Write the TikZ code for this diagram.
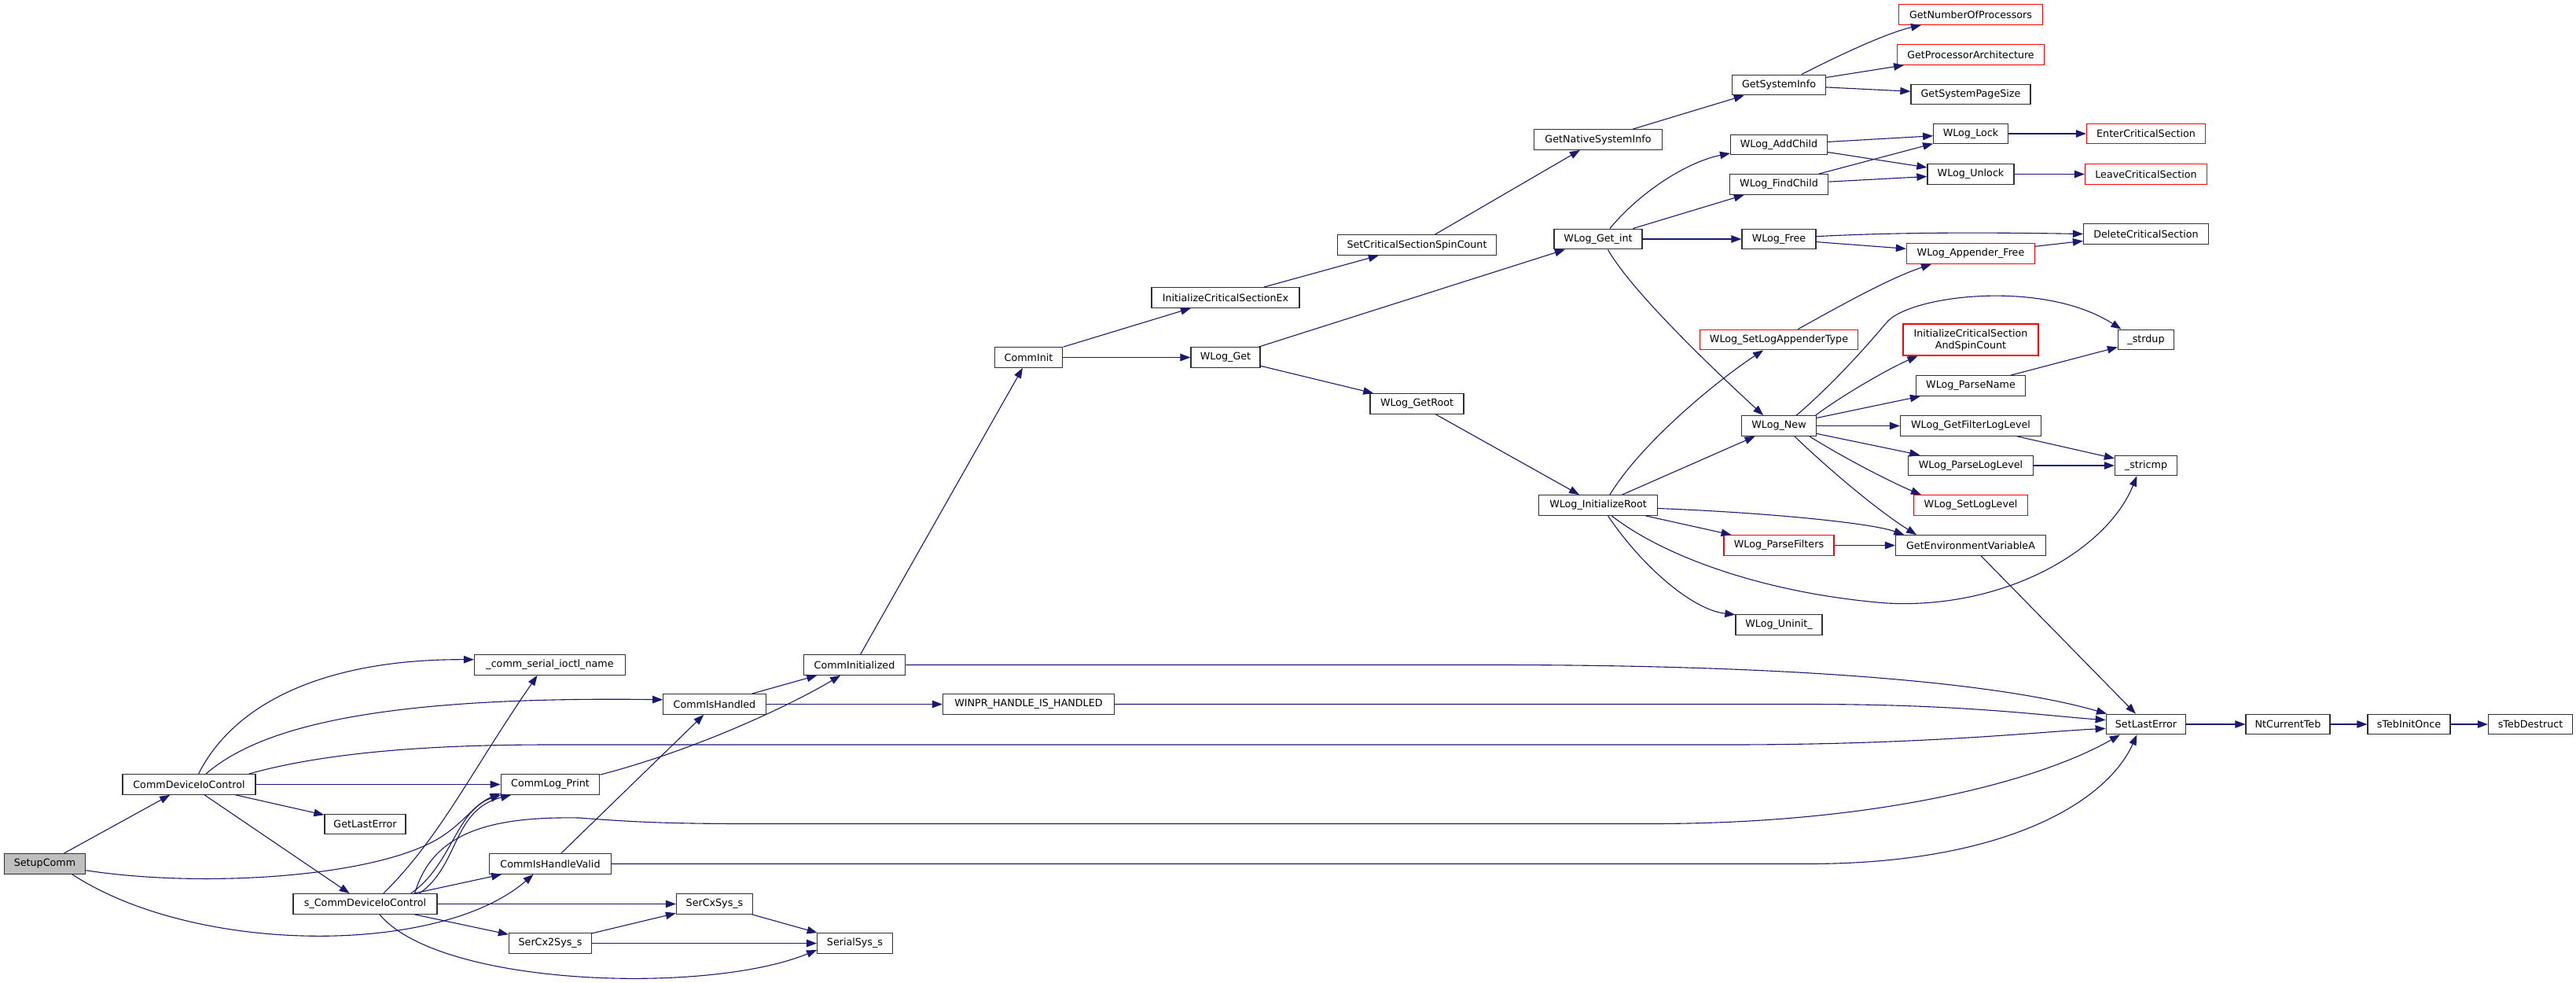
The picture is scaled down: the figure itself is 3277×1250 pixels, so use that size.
\documentclass[tikz,border=0pt]{standalone}
\usepackage{fontspec}
\setmainfont{DejaVu Sans}
\usetikzlibrary{arrows.meta}
\definecolor{edgeblue}{HTML}{191970}
\definecolor{boxline}{HTML}{303030}
\definecolor{rootgrey}{HTML}{BFBFBF}
\tikzset{
  fn/.style={draw=boxline, line width=1.3pt, fill=white, inner sep=0pt,
    minimum height=25.5pt, font=\fontsize{12.7}{15}\selectfont},
  rootfn/.style={fn, fill=rootgrey},
  redfn/.style={fn, draw=red},
  call/.style={edgeblue, line width=1.1pt, -{Triangle[length=13pt,width=9.5pt]}}
}

\begin{document}
\begin{tikzpicture}[x=1pt,y=1pt]
  \path[fill=white, use as bounding box] (0,0) rectangle (3277,-1250);

  \node[rootfn, minimum width=103] (setupcomm) at (57,-1098.5) {SetupComm};
  \node[fn, minimum width=169] (devctl) at (240.5,-997.5) {CommDeviceIoControl};
  \node[fn, minimum width=103] (getlasterror) at (464.5,-1048) {GetLastError};
  \node[fn, minimum width=183] (sdevctl) at (464.5,-1149.5) {s\_CommDeviceIoControl};
  \node[fn, minimum width=192] (ioctlname) at (699.5,-845.5) {\_comm\_serial\_ioctl\_name};
  \node[fn, minimum width=125.5] (logprint) at (700,-997.5) {CommLog\_Print};
  \node[fn, minimum width=155] (handlevalid) at (700,-1098.5) {CommIsHandleValid};
  \node[fn, minimum width=105] (sercxtwo) at (700,-1199.5) {SerCx2Sys\_s};
  \node[fn, minimum width=130.5] (ishandled) at (909,-895.5) {CommIsHandled};
  \node[fn, minimum width=97] (sercx) at (909,-1149.5) {SerCxSys\_s};
  \node[fn, minimum width=129.5] (initialized) at (1087,-845.5) {CommInitialized};
  \node[fn, minimum width=95.5] (serialsys) at (1087.5,-1199.5) {SerialSys\_s};
  \node[fn, minimum width=218] (winpr) at (1308.5,-895.5) {WINPR\_HANDLE\_IS\_HANDLED};
  \node[fn, minimum width=86.5] (comminit) at (1308.5,-454.5) {CommInit};
  \node[fn, minimum width=188] (icsex) at (1559,-378.5) {InitializeCriticalSectionEx};
  \node[fn, minimum width=88] (wlogget) at (1559,-454.5) {WLog\_Get};
  \node[fn, minimum width=202] (spincount) at (1802.5,-311.5) {SetCriticalSectionSpinCount};
  \node[fn, minimum width=119] (getroot) at (1802.5,-513.5) {WLog\_GetRoot};
  \node[fn, minimum width=162.5] (nativeinfo) at (2033,-177.5) {GetNativeSystemInfo};
  \node[fn, minimum width=112] (getint) at (2033,-304) {WLog\_Get\_int};
  \node[fn, minimum width=150.5] (initroot) at (2033,-642.5) {WLog\_InitializeRoot};
  \node[fn, minimum width=118.7] (sysinfo) at (2263,-108) {GetSystemInfo};
  \node[fn, minimum width=122.7] (addchild) at (2263,-184) {WLog\_AddChild};
  \node[fn, minimum width=125.5] (findchild) at (2263,-234.5) {WLog\_FindChild};
  \node[fn, minimum width=94] (wlogfree) at (2263,-304) {WLog\_Free};
  \node[redfn, minimum width=201.5] (setappender) at (2263,-432) {WLog\_SetLogAppenderType};
  \node[fn, minimum width=94.6] (wlognew) at (2263,-541.5) {WLog\_New};
  \node[redfn, minimum width=140] (parsefilters) at (2263,-693.5) {WLog\_ParseFilters};
  \node[fn, minimum width=110] (uninit) at (2263,-794.5) {WLog\_Uninit\_};
  \node[redfn, minimum width=182.5] (numproc) at (2507,-18.5) {GetNumberOfProcessors};
  \node[redfn, minimum width=187] (procarch) at (2507,-69.5) {GetProcessorArchitecture};
  \node[fn, minimum width=152] (pagesize) at (2507,-120) {GetSystemPageSize};
  \node[fn, minimum width=94.5] (wloglock) at (2507,-170) {WLog\_Lock};
  \node[fn, minimum width=110] (wlogunlock) at (2507,-221.5) {WLog\_Unlock};
  \node[redfn, minimum width=163] (appfree) at (2507,-322.5) {WLog\_Appender\_Free};
  \node[redfn, minimum width=172, minimum height=40, align=center] (icsspin) at (2507,-432) {InitializeCriticalSection\\AndSpinCount};
  \node[fn, minimum width=139] (parsename) at (2507,-490.5) {WLog\_ParseName};
  \node[fn, minimum width=179] (filterlevel) at (2507,-541.5) {WLog\_GetFilterLogLevel};
  \node[fn, minimum width=159] (parselevel) at (2507,-592) {WLog\_ParseLogLevel};
  \node[redfn, minimum width=144.4] (setlevel) at (2507,-642.5) {WLog\_SetLogLevel};
  \node[fn, minimum width=191] (getenv) at (2507,-693.5) {GetEnvironmentVariableA};
  \node[redfn, minimum width=151] (entercs) at (2730,-170) {EnterCriticalSection};
  \node[redfn, minimum width=155] (leavecs) at (2730,-221.5) {LeaveCriticalSection};
  \node[fn, minimum width=159] (deletecs) at (2730,-297.5) {DeleteCriticalSection};
  \node[fn, minimum width=71] (strdup) at (2730,-432) {\_strdup};
  \node[fn, minimum width=79] (stricmp) at (2730,-592) {\_stricmp};
  \node[fn, minimum width=101.5] (setlasterror) at (2730,-921) {SetLastError};
  \node[fn, minimum width=107] (ntcurrentteb) at (2910.5,-921) {NtCurrentTeb};
  \node[fn, minimum width=105] (tebinitonce) at (3064.5,-921) {sTebInitOnce};
  \node[fn, minimum width=107] (tebdestruct) at (3219,-921) {sTebDestruct};

  \draw[call] (setupcomm) -- (devctl);
  \draw[call] (setupcomm.-9) .. controls (260,-1130) and (480,-1115) .. (560,-1065) .. controls (590,-1046) and (605,-1022) .. (logprint.190);
  \draw[call] (setupcomm.-21) .. controls (250,-1215) and (560,-1215) .. (handlevalid.-148);
  \draw[call] (devctl.48) .. controls (300,-890) and (420,-838) .. (ioctlname.176);
  \draw[call] (devctl.32) .. controls (330,-925) and (480,-885) .. (ishandled.175);
  \draw[call] (devctl.10) .. controls (420,-955) and (560,-947) .. (700,-947) -- (2200,-947) .. controls (2450,-947) and (2600,-930) .. (setlasterror.186);
  \draw[call] (devctl) -- (logprint);
  \draw[call] (devctl) -- (getlasterror);
  \draw[call] (devctl) -- (sdevctl);
  \draw[call] (sdevctl.30) .. controls (560,-1065) and (600,-980) .. (ioctlname.220);
  \draw[call] (sdevctl.13) .. controls (575,-1100) and (580,-1030) .. (logprint.192);
  \draw[call] (sdevctl.11) .. controls (585,-1100) and (575,-1030) .. (logprint.195);
  \draw[call] (sdevctl) -- (handlevalid);
  \draw[call] (sdevctl.12) .. controls (550,-1060) and (620,-1038) .. (737,-1040) .. controls (800,-1045) and (850,-1047.5) .. (950,-1047.5) -- (2100,-1047.5) .. controls (2400,-1047.5) and (2600,-990) .. (setlasterror.202);
  \draw[call] (sdevctl) -- (sercx);
  \draw[call] (sdevctl) -- (sercxtwo);
  \draw[call] (sdevctl.-36) .. controls (560,-1255) and (900,-1265) .. (serialsys.190);
  \draw[call] (sercx) -- (serialsys);
  \draw[call] (sercxtwo) -- (sercx);
  \draw[call] (sercxtwo) -- (serialsys);
  \draw[call] (logprint.11) .. controls (880,-955) and (1000,-900) .. (initialized.217);
  \draw[call] (ishandled) -- (initialized);
  \draw[call] (ishandled) -- (winpr);
  \draw[call] (handlevalid) -- (ishandled);
  \draw[call] (handlevalid.east) -- (2300,-1098.5) .. controls (2550,-1098.5) and (2680,-1020) .. (setlasterror.229);
  \draw[call] (initialized) -- (comminit);
  \draw[call] (initialized.east) -- (1900,-845.5) .. controls (2300,-845.5) and (2550,-870) .. (setlasterror.165);
  \draw[call] (winpr.east) -- (2300,-895.5) .. controls (2500,-895.5) and (2600,-910) .. (setlasterror.174);
  \draw[call] (comminit) -- (icsex);
  \draw[call] (comminit) -- (wlogget);
  \draw[call] (icsex) -- (spincount);
  \draw[call] (spincount) -- (nativeinfo);
  \draw[call] (nativeinfo) -- (sysinfo);
  \draw[call] (sysinfo.25) .. controls (2340,-70) and (2400,-42) .. (numproc.192);
  \draw[call] (sysinfo) -- (procarch);
  \draw[call] (sysinfo) -- (pagesize);
  \draw[call] (wlogget) -- (getint);
  \draw[call] (wlogget) -- (getroot);
  \draw[call] (getroot) -- (initroot);
  \draw[call] (getint.42) .. controls (2090,-240) and (2150,-205) .. (addchild.190);
  \draw[call] (getint) -- (findchild);
  \draw[call] (getint) -- (wlogfree);
  \draw[call] (getint.-47) .. controls (2075,-370) and (2180,-470) .. (wlognew.146);
  \draw[call] (addchild) -- (wloglock);
  \draw[call] (addchild) -- (wlogunlock);
  \draw[call] (findchild) -- (wloglock);
  \draw[call] (findchild) -- (wlogunlock);
  \draw[call] (wloglock) -- (entercs);
  \draw[call] (wlogunlock) -- (leavecs);
  \draw[call] (wlogfree.4) .. controls (2400,-296) and (2500,-295) .. (deletecs.west);
  \draw[call] (wlogfree) -- (appfree);
  \draw[call] (appfree) -- (deletecs);
  \draw[call] (setappender.29) .. controls (2330,-395) and (2400,-355) .. (appfree.195);
  \draw[call] (initroot.42) .. controls (2090,-560) and (2190,-480) .. (setappender.214);
  \draw[call] (initroot) -- (wlognew);
  \draw[call] (initroot.-3) .. controls (2250,-652) and (2380,-665) .. (getenv.171);
  \draw[call] (initroot) -- (parsefilters);
  \draw[call] (initroot.-38) .. controls (2120,-710) and (2250,-755) .. (2400,-767) .. controls (2550,-775) and (2680,-700) .. (stricmp.229);
  \draw[call] (initroot.-47) .. controls (2085,-715) and (2150,-775) .. (uninit.167);
  \draw[call] (wlognew.31) .. controls (2330,-490) and (2375,-440) .. (2400,-410) .. controls (2430,-375) and (2600,-355) .. (strdup.157);
  \draw[call] (wlognew.16) .. controls (2340,-505) and (2400,-470) .. (icsspin.197);
  \draw[call] (wlognew) -- (parsename);
  \draw[call] (wlognew) -- (filterlevel);
  \draw[call] (wlognew) -- (parselevel);
  \draw[call] (wlognew.-19) .. controls (2350,-585) and (2410,-615) .. (setlevel.168);
  \draw[call] (wlognew.-34) .. controls (2330,-600) and (2390,-650) .. (getenv.169);
  \draw[call] (parsename) -- (strdup);
  \draw[call] (filterlevel) -- (stricmp);
  \draw[call] (parselevel) -- (stricmp);
  \draw[call] (parsefilters) -- (getenv);
  \draw[call] (getenv) -- (setlasterror);
  \draw[call] (setlasterror) -- (ntcurrentteb);
  \draw[call] (ntcurrentteb) -- (tebinitonce);
  \draw[call] (tebinitonce) -- (tebdestruct);
\end{tikzpicture}
\end{document}
